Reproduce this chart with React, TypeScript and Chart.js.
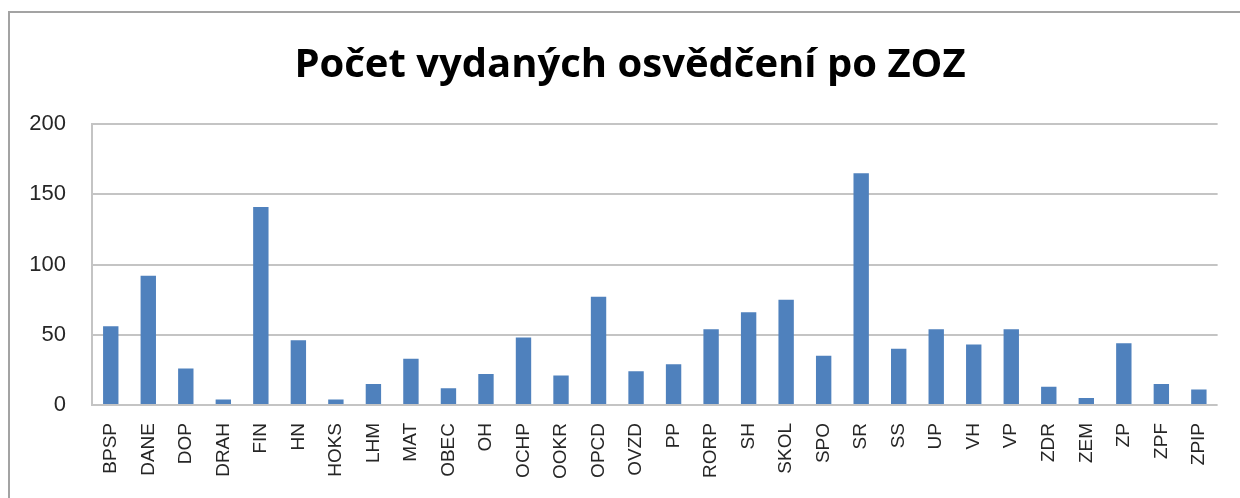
import React, { useEffect, useRef } from "react";
import { Chart, registerables } from "chart.js";

Chart.register(...registerables);

const TITLE = "Počet vydaných osvědčení po ZOZ";
const CATEGORIES = [
  "BPSP", "DANE", "DOP", "DRAH", "FIN", "HN", "HOKS", "LHM", "MAT", "OBEC",
  "OH", "OCHP", "OOKR", "OPCD", "OVZD", "PP", "RORP", "SH", "SKOL", "SPO",
  "SR", "SS", "UP", "VH", "VP", "ZDR", "ZEM", "ZP", "ZPF", "ZPIP",
];
const VALUES = [
  56, 92, 26, 4, 141, 46, 4, 15, 33, 12,
  22, 48, 21, 77, 24, 29, 54, 66, 75, 35,
  165, 40, 54, 43, 54, 13, 5, 44, 15, 11,
];
const Y_MIN = 0;
const Y_MAX = 200;
const Y_STEP = 50;

const framePlugin = {
  id: "frame",
  beforeDraw(chart: any) {
    const ctx = chart.ctx;
    ctx.save();
    ctx.fillStyle = "#ffffff";
    ctx.fillRect(0, 0, chart.width, chart.height);
    ctx.fillStyle = "#a3a3a3";
    ctx.fillRect(8, 11, chart.width, 2);
    ctx.fillRect(8, 11, 2, chart.height);
    ctx.restore();
  },
};

const titlePlugin = {
  id: "centredTitle",
  afterDraw(chart: any) {
    const ctx = chart.ctx;
    ctx.save();
    ctx.fillStyle = "#000000";
    ctx.font = "bold 40px 'Open Sans'";
    ctx.textAlign = "center";
    ctx.textBaseline = "middle";
    ctx.fillText(TITLE, 630, 66);
    ctx.restore();
  },
};

export default function App() {
  const ref = useRef<HTMLCanvasElement>(null);
  useEffect(() => {
    if (!ref.current) return;
    const chart = new Chart(ref.current, {
      type: "bar",
      data: {
        labels: CATEGORIES,
        datasets: [
          {
            data: VALUES,
            backgroundColor: "#4f81bd",
            borderWidth: 0,
            barPercentage: 0.41,
            categoryPercentage: 1,
          },
        ],
      },
      plugins: [framePlugin, titlePlugin],
      options: {
        responsive: false,
        animation: false,
        devicePixelRatio: 1,
        layout: { padding: { left: 0, right: 20, top: 124, bottom: 0 } },
        plugins: {
          legend: { display: false },
          tooltip: { enabled: false },
          title: { display: false },
        },
        scales: {
          x: {
            afterFit(scale: any) {
              scale.height = 93;
            },
            grid: { display: false, drawTicks: false },
            border: { display: false },
            ticks: {
              minRotation: 90,
              maxRotation: 90,
              autoSkip: false,
              padding: 18,
              color: "#262626",
              font: { family: "'Liberation Sans'", size: 19 },
            },
          },
          y: {
            min: Y_MIN,
            max: Y_MAX,
            afterFit(scale: any) {
              scale.width = 92;
            },
            ticks: {
              stepSize: Y_STEP,
              padding: 26,
              color: "#262626",
              font: { family: "'Liberation Sans'", size: 22 },
            },
            grid: { color: "#c4c4c4", lineWidth: 2, drawTicks: false },
            border: { display: true, color: "#c4c4c4", width: 2 },
          },
        },
      },
    });
    return () => chart.destroy();
  }, []);
  return (
    <div style={{ position: "fixed", left: 0, top: 0, width: 1240, height: 498, background: "#fff" }}>
      <canvas ref={ref} width={1240} height={498} style={{ display: "block" }} />
    </div>
  );
}
